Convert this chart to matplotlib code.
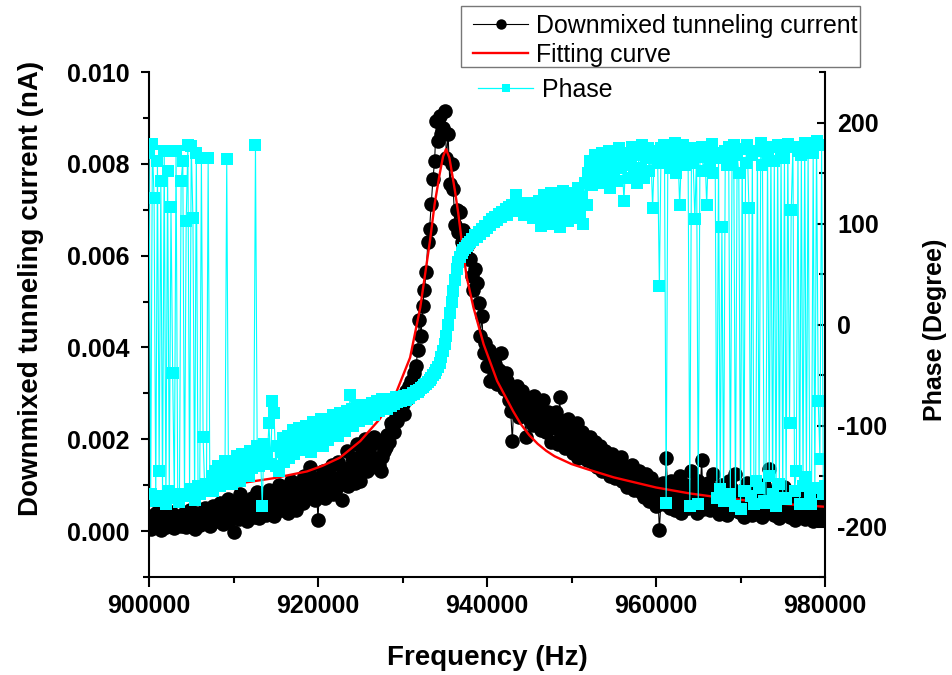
import numpy as np
import matplotlib
matplotlib.use("Agg")
import matplotlib.pyplot as plt
from matplotlib.lines import Line2D
from matplotlib.patches import Rectangle
from matplotlib.ticker import MultipleLocator, FormatStrFormatter

plt.rcParams['font.family'] = ['Liberation Sans', 'DejaVu Sans']
plt.rcParams['font.weight'] = 'bold'
plt.rcParams['axes.unicode_minus'] = False

# Frequency sweep: 900 kHz to 980 kHz in 200 Hz steps (401 points)
freq_hz = np.linspace(900000, 980000, 401)

# Downmixed tunneling current in pA (10 points = 2 kHz per row)
current_pA = np.array([
    0.21, 0.05, 0.32, 0.18, 0.40, 0.12, 0.27, 0.02, 0.35, 0.20,   # 900
    0.09, 0.30, 0.15, 0.42, 0.24, 0.06, 0.33, 0.19, 0.28, 0.11,   # 902
    0.37, 0.22, 0.08, 0.31, 0.45, 0.16, 0.26, 0.04, 0.39, 0.23,   # 904
    0.14, 0.35, 0.28, 0.50, 0.19, 0.41, 0.10, 0.33, 0.55, 0.26,   # 906
    0.44, 0.21, 0.62, 0.35, 0.15, 0.48, 0.30, 0.70, 0.25, 0.52,   # 908
    -0.01, 0.38, 0.58, 0.27, 0.80, 0.45, 0.33, 0.66, 0.22, 0.50,  # 910
    0.40, 0.72, 0.31, 0.55, 0.85, 0.28, 0.62, 0.45, 0.78, 0.36,   # 912
    0.58, 0.90, 0.42, 0.68, 0.33, 0.80, 0.52, 1.00, 0.46, 0.74,   # 914
    0.60, 0.95, 0.40, 0.78, 1.10, 0.55, 0.85, 0.47, 1.05, 0.70,   # 916
    0.90, 0.62, 1.20, 0.75, 1.05, 1.40, 0.80, 1.15, 0.68, 0.98,   # 918
    0.24, 1.10, 0.85, 1.30, 0.72, 1.00, 1.25, 0.90, 1.45, 0.80,   # 920
    1.15, 0.95, 1.50, 1.05, 0.68, 1.35, 1.20, 1.75, 0.98, 1.40,   # 922
    1.25, 1.60, 1.05, 1.90, 1.35, 1.10, 1.70, 1.45, 2.00, 1.30,   # 924
    1.55, 1.85, 1.40, 2.05, 1.60, 1.95, 1.45, 1.30, 1.61, 1.75,   # 926
    1.83, 2.10, 1.95, 2.35, 2.27, 2.15, 2.49, 2.40, 2.70, 2.60,   # 928
    2.77, 2.55, 3.06, 2.90, 3.15, 3.28, 3.10, 3.45, 3.59, 3.94,   # 930
    4.60, 4.25, 4.91, 5.26, 5.64, 6.29, 6.58, 7.13, 7.66, 8.06,   # 932
    8.94, 8.50, 9.05, 8.65, 8.79, 9.16, 8.12, 8.65, 7.55, 7.99,   # 934
    7.46, 6.67, 7.00, 6.52, 6.96, 6.30, 6.55, 6.05, 6.20, 5.92,   # 936
    5.92, 5.55, 5.26, 5.70, 5.40, 4.97, 4.25, 4.69, 3.87, 4.09,   # 938
    3.60, 3.95, 3.28, 3.81, 3.40, 3.65, 3.20, 3.50, 3.87, 3.35,   # 940
    3.10, 3.45, 3.28, 2.85, 2.62, 1.96, 2.99, 2.70, 3.15, 2.49,   # 942
    2.80, 3.06, 2.60, 2.05, 2.90, 2.45, 2.75, 2.30, 2.95, 2.55,   # 944
    2.40, 2.70, 2.20, 2.85, 2.50, 2.15, 2.60, 2.35, 1.95, 2.55,   # 946
    2.25, 2.60, 1.90, 2.93, 2.10, 2.40, 1.80, 2.20, 2.45, 1.95,   # 948
    2.30, 1.70, 2.05, 2.35, 1.60, 1.90, 2.15, 1.75, 2.00, 1.55,   # 950
    1.85, 2.05, 1.50, 1.78, 1.95, 1.40, 1.70, 1.85, 1.30, 1.60,   # 952
    1.75, 1.35, 1.55, 1.20, 1.68, 1.42, 1.15, 1.50, 1.30, 1.62,   # 954
    1.10, 1.40, 1.25, 0.95, 1.35, 1.15, 1.45, 0.90, 1.20, 1.05,   # 956
    1.30, 0.85, 1.10, 0.75, 1.25, 0.95, 0.65, 1.15, 0.80, 1.00,   # 958
    0.55, 0.90, 0.02, 0.70, 1.05, 0.60, 1.60, 0.85, 0.50, 1.10,   # 960
    0.75, 0.45, 0.95, 0.65, 1.20, 0.40, 0.85, 0.60, 1.00, 0.50,   # 962
    0.80, 1.30, 0.55, 0.95, 0.40, 1.10, 0.70, 1.55, 0.48, 0.85,   # 964
    0.62, 1.05, 0.45, 0.78, 1.25, 0.55, 0.90, 0.38, 0.72, 1.00,   # 966
    0.50, 0.85, 0.35, 1.10, 0.60, 0.92, 0.45, 1.25, 0.70, 0.42,   # 968
    0.88, 0.55, 0.30, 0.75, 1.05, 0.48, 0.65, 0.35, 0.95, 0.58,   # 970
    0.40, 0.82, 0.62, 0.30, 1.00, 0.52, 0.75, 1.35, 0.45, 0.68,   # 972
    0.35, 0.90, 0.55, 0.28, 0.72, 0.48, 0.95, 0.38, 0.62, 0.30,   # 974
    0.80, 0.50, 0.25, 0.68, 0.42, 0.88, 0.33, 0.58, 0.26, 0.75,   # 976
    0.45, 0.30, 0.62, 0.22, 0.85, 0.40, 0.55, 0.26, 0.70, 0.35,   # 978
    0.48,                                                          # 980
])

# Phase in degrees (same frequency grid)
phase_deg = np.array([
    170, -168, 179, 125, -175, 162, -145, 142, -170, 172,          # 900
    -178, 152, -165, 116, -48, -172, 172, -168, -176, 142,         # 902
    162, -170, 102, 178, -163, 177, 105, -174, 170, -160,          # 904
    -168, 165, -111, -165, -158, 165, -162, -150, -165, -145,      # 906
    -158, -140, -160, -148, -155, -135, 164, -152, -142, -158,     # 908
    -138, -150, -130, -145, -155, -128, -148, -140, -132, -150,    # 910
    -125, -142, -135, 178, -120, -140, -130, -180, -118, -135,     # 912
    -130, -98, -138, -76, -88, -140, -120, -145, -126, -112,       # 914
    -136, -122, -110, -132, -118, -104, -128, -114, -122, -102,    # 916
    -124, -110, -118, -100, -115, -106, -126, -97, -110, -117,     # 918
    -102, -112, -94, -120, -104, -98, -114, -100, -108, -90,       # 920
    -104, -95, -110, -88, -100, -93, -105, -86, -98, -70,          # 922
    -84, -100, -90, -82, -96, -88, -80, -93, -85, -94,             # 924
    -82, -89, -78, -90, -84, -76, -86, -80, -74, -83,              # 926
    -78, -84, -76, -81, -74, -79, -72, -77, -73, -76,              # 928
    -74, -71, -75, -70, -73, -70, -68, -69, -66, -67,              # 930
    -65, -63, -62, -60, -59, -57, -55, -53, -50, -48,              # 932
    -45, -42, -38, -32, -26, -19, -11, 0, 11, 22,                  # 934
    33, 44, 55, 62, 67, 71, 74, 76, 78, 80,                        # 936
    82, 85, 84, 89, 87, 92, 90, 95, 93, 98,                        # 938
    96, 101, 99, 104, 101, 106, 103, 109, 106, 111,                # 940
    110, 114, 108, 116, 112, 118, 113, 128, 115, 120,              # 942
    112, 118, 108, 115, 120, 110, 117, 105, 114, 119,              # 944
    108, 122, 98, 116, 128, 104, 118, 112, 130, 100,               # 946
    120, 110, 126, 97, 115, 132, 108, 120, 102, 125,               # 948
    114, 130, 105, 122, 135, 110, 126, 100, 140, 118,              # 950
    150, 162, 138, 155, 168, 145, 160, 152, 170, 140,              # 952
    158, 148, 172, 135, 160, 150, 166, 142, 175, 155,              # 954
    165, 122, 158, 170, 145, 162, 176, 150, 168, 140,              # 956
    172, 155, 178, 145, 165, 175, 152, 168, 115, 170,              # 958
    172, 160, 38, 175, 165, 178, -177, 168, 155, 176,              # 960
    162, 180, 150, 170, 118, 165, 178, 158, 172, 163,              # 962
    -180, 175, 160, 104, 170, -178, 166, 176, 152, 168,            # 964
    118, 174, 160, 179, 150, 170, -172, 165, -163, 97,             # 966
    -175, 172, 158, 176, -168, 162, 178, -180, 168, 150,           # 968
    -183, 174, -165, 160, 178, 115, -170, 168, -178, -155,         # 970
    172, -162, 180, 158, -175, -177, 170, -150, 176, -168,         # 972
    162, -180, 178, -158, 170, -172, 165, -173, 179, -98,          # 974
    113, 176, -165, -145, 172, -178, 168, -160, 180, -151,         # 976
    175, -170, -178, 170, -162, 182, -76, -133, 178, -168,         # 978
    -160,                                                          # 980
])

# Fitted resonance curve (kHz, pA)
fit_freq_khz = [900, 903, 906, 910, 914.7, 918.7, 920.5, 922.6, 925.0, 927.3,
                929.3, 930.9, 932.1, 933.25, 933.8, 934.4, 934.8, 935.15, 935.55,
                936.2, 936.6, 937.0, 937.6, 938.4, 939.6, 941.2, 943.1, 944.0,
                945.0, 946.0, 947.0, 948.0, 950.0, 952.0, 955.0, 960.0, 964.0,
                968.0, 972.0, 976.0, 980.0]
fit_current_pA = [0.75, 0.82, 0.91, 1.02, 1.15, 1.30, 1.42, 1.60, 1.96, 2.44,
                  3.04, 3.78, 4.87, 6.32, 7.12, 7.78, 8.16, 8.32, 8.13,
                  7.42, 6.92, 6.33, 5.53, 4.87, 4.07, 3.27, 2.61, 2.33,
                  2.09, 1.90, 1.75, 1.63, 1.46, 1.34, 1.17, 0.95, 0.82,
                  0.72, 0.64, 0.58, 0.53]

current_nA = current_pA * 1e-3
fit_freq_hz = np.array(fit_freq_khz) * 1e3
fit_nA = np.array(fit_current_pA) * 1e-3

W, H = 952, 675
fig = plt.figure(figsize=(W / 100, H / 100), dpi=100)
ax = fig.add_axes([149 / W, 1 - 577 / H, (825 - 149) / W, (577 - 72) / H])
ax2 = ax.twinx()

# Left axis: current and fit
ax.plot(freq_hz, current_nA, color='black', lw=0.8, marker='o',
        markersize=10.5, markeredgewidth=0, zorder=2)
ax.plot(fit_freq_hz, fit_nA, color='#ff0000', lw=1.7, zorder=3)

# Right axis: phase
ax2.plot(freq_hz, phase_deg, color='#00ffff', lw=0.8, marker='s',
         markersize=8.8, markeredgewidth=0)

ax.set_xlim(900000, 980000)
ax.set_ylim(-0.001, 0.010)
ax2.set_ylim(-250, 250)

ax.xaxis.set_major_locator(MultipleLocator(20000))
ax.xaxis.set_minor_locator(MultipleLocator(10000))
ax.xaxis.set_major_formatter(FormatStrFormatter('%d'))
ax.yaxis.set_major_locator(MultipleLocator(0.002))
ax.yaxis.set_minor_locator(MultipleLocator(0.001))
ax.yaxis.set_major_formatter(FormatStrFormatter('%.3f'))
ax2.yaxis.set_major_locator(MultipleLocator(100))
ax2.yaxis.set_minor_locator(MultipleLocator(50))
ax2.yaxis.set_major_formatter(FormatStrFormatter('%d'))

for sp in ['top', 'right']:
    ax.spines[sp].set_visible(False)
for sp in ['top', 'left', 'bottom']:
    ax2.spines[sp].set_visible(False)
for a, sp in [(ax, 'left'), (ax, 'bottom'), (ax2, 'right')]:
    a.spines[sp].set_linewidth(1.5)

ax.tick_params(axis='y', which='major', direction='out', length=6, width=1.5,
               labelsize=18, pad=8)
ax.tick_params(axis='y', which='minor', direction='out', length=4, width=1.5)
ax.tick_params(axis='x', which='major', direction='out', length=7.5, width=1.5,
               labelsize=18, pad=5)
ax.tick_params(axis='x', which='minor', direction='out', length=4.5, width=1.5)
ax2.tick_params(axis='y', which='major', direction='in', length=5.5, width=1.5,
                labelsize=18, pad=9)
ax2.tick_params(axis='y', which='minor', direction='in', length=4, width=1.5)

ax.set_xlabel('Frequency (Hz)', fontsize=20, fontweight='bold')
ax.xaxis.set_label_coords(0.5, -0.135)
ax.set_ylabel('Downmixed tunneling current (nA)', fontsize=20, fontweight='bold')
ax.yaxis.set_label_coords(-0.155, 0.572)
ax2.set_ylabel('Phase (Degree)', fontsize=18, fontweight='bold')
ax2.yaxis.set_label_coords(1.145, 0.49)

# Legends
leg_prop = {'size': 17.9, 'weight': 'normal'}
h_cur = Line2D([], [], color='black', lw=0.8, marker='o', markersize=7.5,
               markeredgewidth=0)
h_fit = Line2D([], [], color='#ff0000', lw=1.7)
h_ph = Line2D([], [], color='#00ffff', lw=0.9, marker='s', markersize=6,
              markeredgewidth=0)

fig.add_artist(Rectangle((461 / W, 1 - 67 / H), (860 - 461) / W, 61 / H,
                         transform=fig.transFigure, fill=False,
                         edgecolor='#777777', lw=1.0))
fig.legend([h_cur, h_fit], ['Downmixed tunneling current', 'Fitting curve'],
           loc='upper left', bbox_to_anchor=(473 / W, 1 - 14 / H),
           frameon=False, borderpad=0, borderaxespad=0, handlelength=2.22,
           handletextpad=0.33, labelspacing=0.2, numpoints=1, prop=leg_prop)
fig.legend([h_ph], ['Phase'],
           loc='upper left', bbox_to_anchor=(478 / W, 1 - 78 / H),
           frameon=False, borderpad=0, borderaxespad=0, handlelength=2.22,
           handletextpad=0.37, numpoints=1, prop=leg_prop)

fig.savefig('out.png', dpi=100)
